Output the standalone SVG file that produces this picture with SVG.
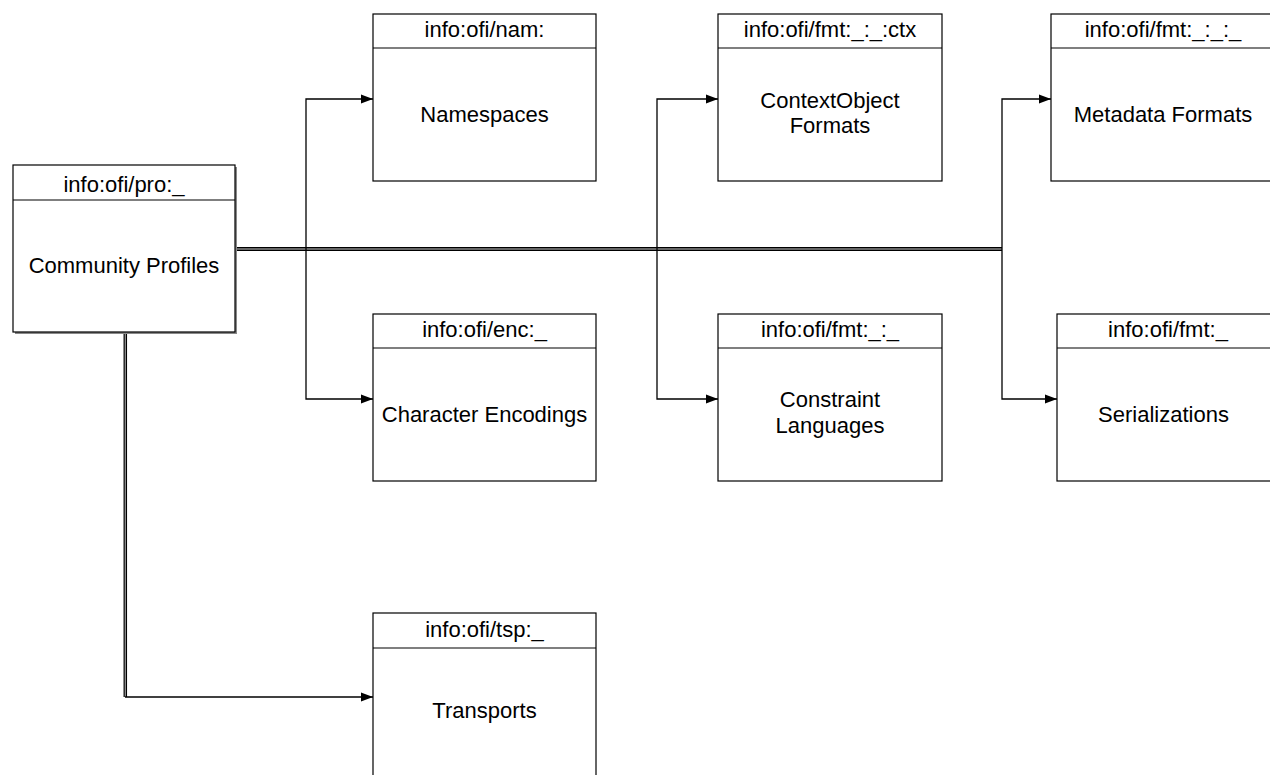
<svg xmlns="http://www.w3.org/2000/svg" width="1270" height="775" viewBox="0 0 1270 775">
<style>
.box{fill:#fff;stroke:#000;stroke-width:1.2}
.hdr{stroke:#000;stroke-width:1.2}
.t{font-family:"Liberation Sans",Arial,sans-serif;font-size:22px;fill:#000;text-anchor:middle}
.c{fill:none;stroke:#000;stroke-width:1.3}
</style>
<defs>
<marker id="ah" markerWidth="12" markerHeight="10" refX="12" refY="5" orient="auto" markerUnits="userSpaceOnUse">
<path d="M0,0.5 L12,5 L0,9.5 Z" fill="#000"/>
</marker>
</defs>
<rect width="1270" height="775" fill="#fff"/>
<g id="connectors">
<path d="M237,249 H1002" fill="none" stroke="#000" stroke-width="4"/>
<path d="M237,249 H1002" fill="none" stroke="#888" stroke-width="1.5"/>
<path d="M125.3,332 V697" fill="none" stroke="#000" stroke-width="3.5"/>
<path d="M125.3,332 V697" fill="none" stroke="#999" stroke-width="1.2"/>
<path class="c" d="M125,697 H373" marker-end="url(#ah)"/>
<path class="c" d="M306,249 V99 H373" marker-end="url(#ah)"/>
<path class="c" d="M306,249 V399 H373" marker-end="url(#ah)"/>
<path class="c" d="M657,249 V99 H718" marker-end="url(#ah)"/>
<path class="c" d="M657,249 V399 H718" marker-end="url(#ah)"/>
<path class="c" d="M1002,249 V99 H1051" marker-end="url(#ah)"/>
<path class="c" d="M1002,249 V399 H1057" marker-end="url(#ah)"/>
</g>
<g id="community-profiles">
<rect x="15" y="167" width="222" height="167" fill="#888"/>
<rect class="box" x="13" y="165" width="222" height="167"/>
<line class="hdr" x1="13" y1="200" x2="235" y2="200"/>
<text class="t" x="124" y="192">info:ofi/pro:_</text>
<text class="t" x="124" y="273">Community Profiles</text>
</g>
<g id="namespaces">
<rect class="box" x="373" y="14" width="223" height="167"/>
<line class="hdr" x1="373" y1="48" x2="596" y2="48"/>
<text class="t" x="484.5" y="37">info:ofi/nam:</text>
<text class="t" x="484.5" y="122">Namespaces</text>
</g>
<g id="contextobject-formats">
<rect class="box" x="718" y="14" width="224" height="167"/>
<line class="hdr" x1="718" y1="48" x2="942" y2="48"/>
<text class="t" x="830" y="37">info:ofi/fmt:_:_:ctx</text>
<text class="t" x="830" y="108">ContextObject</text>
<text class="t" x="830" y="133">Formats</text>
</g>
<g id="metadata-formats">
<rect class="box" x="1051" y="14" width="224" height="167"/>
<line class="hdr" x1="1051" y1="48" x2="1275" y2="48"/>
<text class="t" x="1163" y="37">info:ofi/fmt:_:_:_</text>
<text class="t" x="1163" y="122">Metadata Formats</text>
</g>
<g id="character-encodings">
<rect class="box" x="373" y="314" width="223" height="167"/>
<line class="hdr" x1="373" y1="348" x2="596" y2="348"/>
<text class="t" x="484.5" y="337">info:ofi/enc:_</text>
<text class="t" x="484.5" y="422">Character Encodings</text>
</g>
<g id="constraint-languages">
<rect class="box" x="718" y="314" width="224" height="167"/>
<line class="hdr" x1="718" y1="348" x2="942" y2="348"/>
<text class="t" x="830" y="337">info:ofi/fmt:_:_</text>
<text class="t" x="830" y="407">Constraint</text>
<text class="t" x="830" y="433">Languages</text>
</g>
<g id="serializations">
<rect class="box" x="1057" y="314" width="224" height="167"/>
<line class="hdr" x1="1057" y1="348" x2="1281" y2="348"/>
<text class="t" x="1168" y="337">info:ofi/fmt:_</text>
<text class="t" x="1163.5" y="422">Serializations</text>
</g>
<g id="transports">
<rect class="box" x="373" y="613" width="223" height="167"/>
<line class="hdr" x1="373" y1="648" x2="596" y2="648"/>
<text class="t" x="484.5" y="637">info:ofi/tsp:_</text>
<text class="t" x="484.5" y="718">Transports</text>
</g>
</svg>
